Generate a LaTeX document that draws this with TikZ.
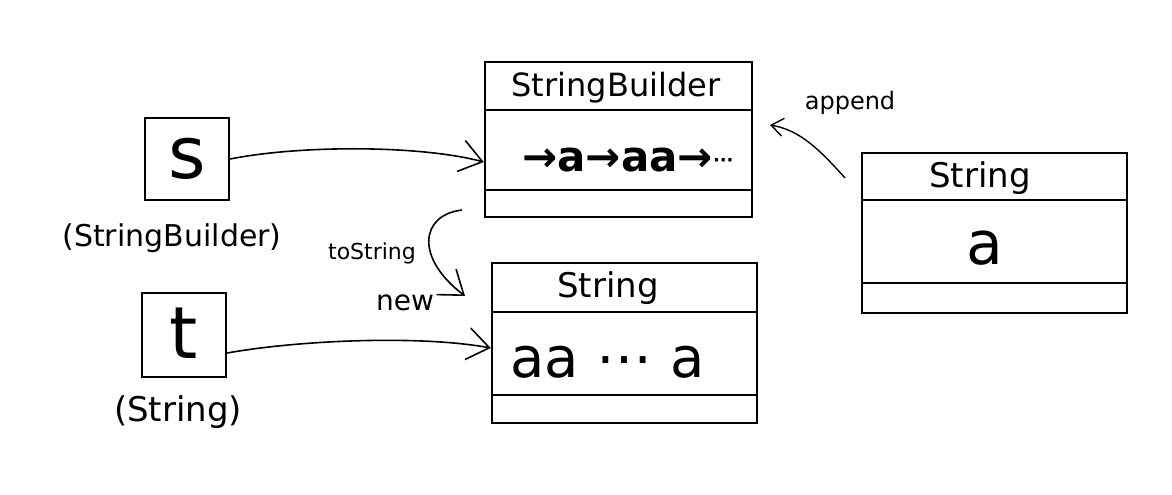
\documentclass[tikz,border=0pt]{standalone}
\usepackage{fontspec}
\setmainfont{DejaVu Sans}
\usetikzlibrary{arrows.meta}
\tikzset{
  objbox/.style={draw, line width=1.2pt, inner sep=0pt},
  varbox/.style={draw, line width=1.2pt, inner sep=0pt, minimum width=42pt, minimum height=41pt},
  sepline/.style={line width=1.2pt},
  conn/.style={line width=0.8pt, -{Straight Barb[length=11pt,width=16pt,line width=0.8pt]}},
  smallconn/.style={line width=0.7pt, -{Straight Barb[length=6pt,width=9pt,line width=0.7pt]}},
  txt/.style={inner sep=0pt, anchor=center},
}
\begin{document}
\begin{tikzpicture}[x=0.5pt,y=-0.5pt]
\useasboundingbox[fill=white] (0,0) rectangle (1172,494);

% object boxes
\node[objbox, minimum width=133.5pt, minimum height=77.5pt] (sb) at (618.5,139.5) {};
\draw[sepline] (sb.west |- 0,110) -- (sb.east |- 0,110);
\draw[sepline] (sb.west |- 0,190) -- (sb.east |- 0,190);
\node[txt, font=\fontsize{16}{18}\selectfont] (sbhead) at (616,88) {StringBuilder};
\node[txt, font=\fontsize{21}{24}\selectfont\bfseries] (sbbody) at (628,160) {→a→aa→\raisebox{2.5pt}{\fontsize{9}{10}\selectfont\bfseries ···}};

\node[objbox, minimum width=132.5pt, minimum height=80pt] (str) at (624.5,343) {};
\draw[sepline] (str.west |- 0,312) -- (str.east |- 0,312);
\draw[sepline] (str.west |- 0,395) -- (str.east |- 0,395);
\node[txt, font=\fontsize{17}{19}\selectfont] (strhead) at (608,288) {String};
\node[txt, font=\fontsize{28}{30}\selectfont, anchor=west] (strbody) at (510,362) {aa ⋯ a};

\node[objbox, minimum width=132.5pt, minimum height=80pt] (str2) at (994.5,233) {};
\draw[sepline] (str2.west |- 0,200) -- (str2.east |- 0,200);
\draw[sepline] (str2.west |- 0,283) -- (str2.east |- 0,283);
\node[txt, font=\fontsize{17}{19}\selectfont] (str2head) at (980,178) {String};
\node[txt, font=\fontsize{30}{32}\selectfont] (str2body) at (985,248) {a};

% variable boxes
\node[varbox] (s) at (187,159) {};
\node[txt, font=\fontsize{36}{38}\selectfont] (sname) at (187,159) {s};
\node[txt, font=\fontsize{15}{17}\selectfont] (slbl) at (172,238) {(StringBuilder)};

\node[varbox, minimum height=42pt] (t) at (184,335) {};
\node[txt, font=\fontsize{36}{38}\selectfont] (tname) at (184,333) {t};
\node[txt, font=\fontsize{17}{19}\selectfont] (tlbl) at (178,412) {(String)};

% connectors
\draw[conn] (s.east) .. controls (300,145) and (420,145) .. (sb.west |- 0,162);
\draw[conn] ([yshift=-9pt]t.east) .. controls (300,340) and (420,335) .. (str.west |- 0,348);

\coordinate (tsfrom) at (462,210);
\coordinate (tsto) at (465,296);
\draw[conn] (tsfrom) .. controls (420,215) and (415,258) .. (tsto);
\node[txt, font=\fontsize{11}{13}\selectfont] (tslbl) at (372,253) {toString};
\node[txt, font=\fontsize{14}{16}\selectfont] (newlbl) at (405,303) {new};

\coordinate (apfrom) at (845,178);
\coordinate (apto) at (770,125);
\draw[smallconn] (apfrom) .. controls (820,150) and (800,130) .. (apto);
\node[txt, font=\fontsize{12}{14}\selectfont] (aplbl) at (850,103) {append};
\end{tikzpicture}
\end{document}
